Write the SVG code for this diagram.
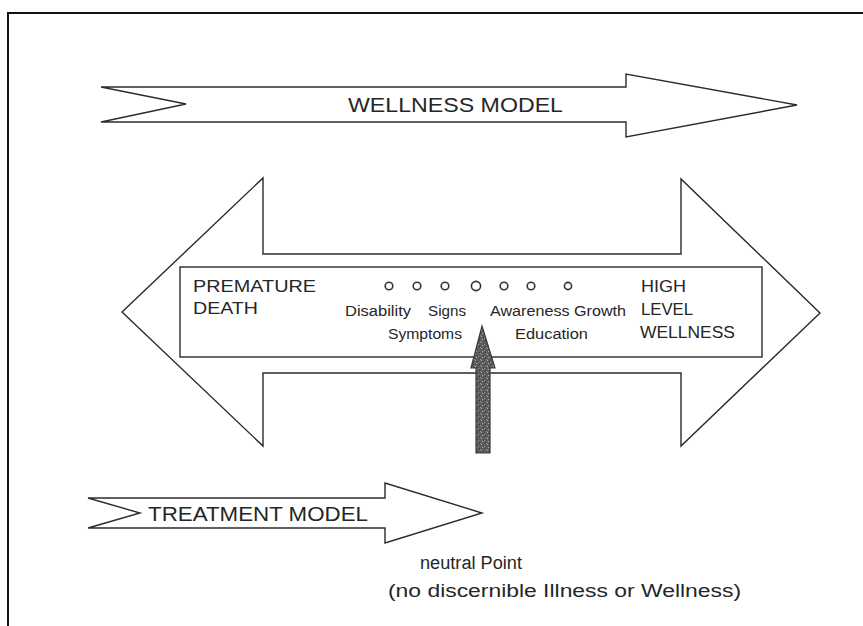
<svg xmlns="http://www.w3.org/2000/svg" width="863" height="626" viewBox="0 0 863 626">
  <style>
    .outline { fill: #ffffff; stroke: #2b2b2b; stroke-width: 1.4; stroke-linejoin: miter; }
    .frame { fill: none; stroke: #111111; stroke-width: 2; }
    .big { font-family: "Liberation Sans", Arial, sans-serif; font-size: 20px; fill: #262626; }
    .mid { font-family: "Liberation Sans", Arial, sans-serif; font-size: 16px; fill: #262626; }
    .small { font-family: "Liberation Sans", Arial, sans-serif; font-size: 14px; fill: #262626; }
    .note { font-family: "Liberation Sans", Arial, sans-serif; font-size: 18px; fill: #262626; }
    .dot { fill: none; stroke: #333333; stroke-width: 1.6; }
  </style>
  <defs>
    <!-- speckled grey fill for the pointer arrow -->
    <pattern id="speckle" width="6" height="6" patternUnits="userSpaceOnUse">
      <rect width="6" height="6" fill="#5c5c5c"/>
      <rect x="1" y="0" width="1" height="1" fill="#a8a8a8"/>
      <rect x="4" y="2" width="1" height="1" fill="#9a9a9a"/>
      <rect x="2" y="3" width="1" height="1" fill="#b0b0b0"/>
      <rect x="0" y="5" width="1" height="1" fill="#909090"/>
      <rect x="5" y="4" width="1" height="1" fill="#3a3a3a"/>
      <rect x="3" y="1" width="1" height="1" fill="#404040"/>
    </pattern>
  </defs>

  <rect width="863" height="626" fill="#ffffff"/>

  <!-- page frame (top and left edges) -->
  <path class="frame" d="M8 626 V13 H863"/>

  <!-- upper arrow: wellness model -->
  <g id="wellness-model">
    <polygon class="outline" points="101,87 626,87 626,74 797,105 626,137 626,122 101,122 186,104"/>
    <text class="big" x="348" y="112" textLength="215" lengthAdjust="spacingAndGlyphs">WELLNESS MODEL</text>
  </g>

  <!-- double-headed continuum arrow -->
  <g id="continuum-arrow">
    <polygon class="outline" points="122,312 263,178 263,254 681,254 681,179 820,313 681,446 681,373 263,373 263,446"/>
  </g>

  <!-- continuum scale box -->
  <g id="continuum-box">
    <rect class="outline" x="180" y="267" width="582" height="90"/>
    <text class="mid" x="193" y="292" textLength="123" lengthAdjust="spacingAndGlyphs">PREMATURE</text>
    <text class="mid" x="193" y="314" textLength="65" lengthAdjust="spacingAndGlyphs">DEATH</text>
    <text class="mid" x="641" y="292" textLength="45" lengthAdjust="spacingAndGlyphs">HIGH</text>
    <text class="mid" x="641" y="315" textLength="52" lengthAdjust="spacingAndGlyphs">LEVEL</text>
    <text class="mid" x="640" y="338" textLength="95" lengthAdjust="spacingAndGlyphs">WELLNESS</text>

    <circle class="dot" cx="389" cy="286" r="3.8"/>
    <circle class="dot" cx="417" cy="286" r="3.8"/>
    <circle class="dot" cx="445" cy="286" r="3.8"/>
    <circle class="dot" cx="476" cy="286" r="4.6" stroke-width="2.4"/>
    <circle class="dot" cx="504" cy="286" r="3.8"/>
    <circle class="dot" cx="531" cy="286" r="3.8"/>
    <circle class="dot" cx="568" cy="286" r="3.6"/>

    <text class="small" x="345" y="316" textLength="66" lengthAdjust="spacingAndGlyphs">Disability</text>
    <text class="small" x="428" y="316" textLength="38" lengthAdjust="spacingAndGlyphs">Signs</text>
    <text class="small" x="490" y="316" textLength="136" lengthAdjust="spacingAndGlyphs">Awareness Growth</text>
    <text class="small" x="388" y="339" textLength="74" lengthAdjust="spacingAndGlyphs">Symptoms</text>
    <text class="small" x="515" y="339" textLength="73" lengthAdjust="spacingAndGlyphs">Education</text>
  </g>

  <!-- neutral point pointer -->
  <g id="neutral-pointer">
    <polygon points="482,326 495,368 490,368 490,453 476,453 476,368 471,368" fill="url(#speckle)" stroke="#3a3a3a" stroke-width="1.2"/>
  </g>

  <!-- lower arrow: treatment model -->
  <g id="treatment-model">
    <polygon class="outline" points="88,498 385,498 385,483 482,513 385,543 385,528 88,528 140,513"/>
    <text class="big" x="148" y="521" textLength="220" lengthAdjust="spacingAndGlyphs">TREATMENT MODEL</text>
  </g>

  <!-- neutral point caption -->
  <g id="neutral-caption">
    <text class="note" x="420" y="569" textLength="102" lengthAdjust="spacingAndGlyphs">neutral Point</text>
    <text class="note" x="388" y="597" textLength="353" lengthAdjust="spacingAndGlyphs">(no discernible Illness or Wellness)</text>
  </g>

  <!-- connectors: none besides the drawn arrows -->
  <g id="connectors"/>
</svg>
